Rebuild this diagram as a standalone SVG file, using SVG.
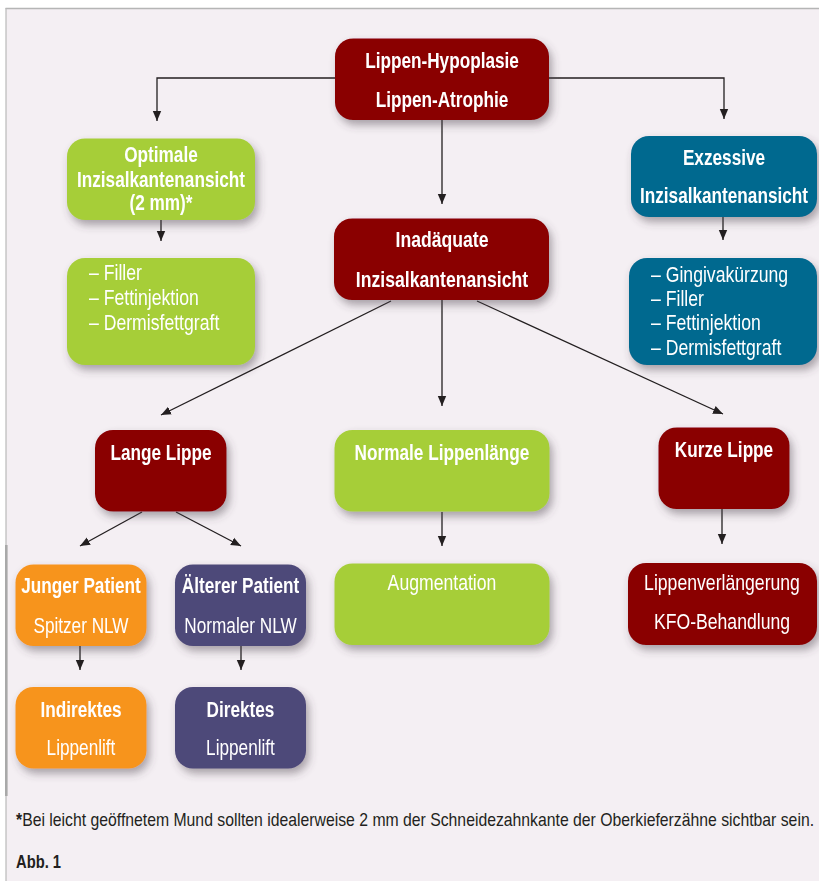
<svg xmlns="http://www.w3.org/2000/svg" width="819" height="881" viewBox="0 0 819 881">
<defs>
<style>
.bg{fill:#f4eff3}
.n{filter:url(#sh)}
.red{fill:#8a0004}
.grn{fill:#a6ce39}
.blu{fill:#00698f}
.org{fill:#f7941e}
.pur{fill:#4e4879}
text{font-family:"Liberation Sans",Arial,sans-serif;fill:#fff}
.b{font-weight:bold;font-size:21.5px;text-anchor:middle}
.r{font-size:21.5px;text-anchor:middle}
.l{font-size:21.5px}
.c line,.c path{stroke:#231f20;stroke-width:1.3;fill:none;marker-end:url(#ah)}
.foot{fill:#231f20;font-size:18px}
</style>
<filter id="sh" x="-20%" y="-20%" width="150%" height="160%">
<feDropShadow dx="3" dy="5" stdDeviation="4" flood-color="#4a4248" flood-opacity="0.45"/>
</filter>
<marker id="ah" markerUnits="userSpaceOnUse" markerWidth="10" markerHeight="10" viewBox="0 0 10 10" refX="10" refY="5" orient="auto">
<path d="M0,0.8 L10,5 L0,9.2 z" fill="#231f20"/>
</marker>
</defs>
<rect x="0" y="0" width="819" height="881" fill="#ffffff"/>
<rect class="bg" x="6" y="8.5" width="813" height="872.5"/>
<line x1="5.5" y1="8.5" x2="819" y2="8.5" stroke="#b5b5b5" stroke-width="1.6"/>
<line x1="6" y1="8" x2="6" y2="881" stroke="#b9b9b9" stroke-width="1.2"/>
<line x1="6.3" y1="545" x2="6.3" y2="796" stroke="#a9a9a9" stroke-width="2.6"/>

<g class="c" id="connectors">
<path d="M335,78 H157 V121"/>
<path d="M549,78 H724 V119"/>
<line x1="442" y1="120" x2="442" y2="204"/>
<line x1="161" y1="220" x2="161" y2="241"/>
<line x1="723" y1="217" x2="723" y2="240"/>
<line x1="391" y1="301" x2="161" y2="415"/>
<line x1="442" y1="300" x2="442" y2="406"/>
<line x1="477" y1="301" x2="723" y2="414"/>
<line x1="142" y1="512" x2="80" y2="546"/>
<line x1="176" y1="512" x2="241" y2="546"/>
<line x1="442" y1="512" x2="442" y2="546"/>
<line x1="722" y1="509" x2="722" y2="544"/>
<line x1="80" y1="646" x2="80" y2="670"/>
<line x1="241" y1="646" x2="241" y2="670"/>
</g>

<g id="n-top" class="n"><rect class="red" x="335" y="38.5" width="214" height="81.5" rx="18"/>
<g transform="translate(442,0) scale(0.8,1)"><text class="b" x="0" y="68">Lippen-Hypoplasie</text><text class="b" x="0" y="107">Lippen-Atrophie</text></g></g>

<g id="n-optimal" class="n"><rect class="grn" x="67" y="138.5" width="188" height="81.5" rx="18"/>
<g transform="translate(161,0) scale(0.8,1)"><text class="b" x="0" y="162">Optimale</text><text class="b" x="0" y="187">Inzisalkantenansicht</text><text class="b" x="0" y="210">(2 mm)*</text></g></g>

<g id="n-optimal-list" class="n"><rect class="grn" x="67" y="258" width="188" height="107" rx="18"/>
<g transform="translate(89,0) scale(0.82,1)"><text class="l" x="0" y="280">– Filler</text><text class="l" x="0" y="305.5">– Fettinjektion</text><text class="l" x="0" y="330">– Dermisfettgraft</text></g></g>

<g id="n-exzessiv" class="n"><rect class="blu" x="631" y="136" width="186" height="81" rx="18"/>
<g transform="translate(724,0) scale(0.8,1)"><text class="b" x="0" y="165">Exzessive</text><text class="b" x="0" y="203.5">Inzisalkantenansicht</text></g></g>

<g id="n-exzessiv-list" class="n"><rect class="blu" x="629" y="258" width="188" height="107" rx="18"/>
<g transform="translate(651,0) scale(0.82,1)"><text class="l" x="0" y="282.5">– Gingivakürzung</text><text class="l" x="0" y="306">– Filler</text><text class="l" x="0" y="330.5">– Fettinjektion</text><text class="l" x="0" y="355">– Dermisfettgraft</text></g></g>

<g id="n-inadaequat" class="n"><rect class="red" x="334" y="218.5" width="215" height="81.5" rx="18"/>
<g transform="translate(442,0) scale(0.82,1)"><text class="b" x="0" y="247.5">Inadäquate</text><text class="b" x="0" y="287">Inzisalkantenansicht</text></g></g>

<g id="n-lange" class="n"><rect class="red" x="95" y="430" width="131.5" height="81.5" rx="18"/>
<g transform="translate(161,0) scale(0.8,1)"><text class="b" x="0" y="460">Lange Lippe</text></g></g>

<g id="n-normal" class="n"><rect class="grn" x="334.5" y="430" width="215" height="81.5" rx="18"/>
<g transform="translate(442,0) scale(0.8,1)"><text class="b" x="0" y="460">Normale Lippenlänge</text></g></g>

<g id="n-kurz" class="n"><rect class="red" x="658.5" y="427.5" width="131" height="81.5" rx="18"/>
<g transform="translate(724,0) scale(0.8,1)"><text class="b" x="0" y="457.5">Kurze Lippe</text></g></g>

<g id="n-junger" class="n"><rect class="org" x="15.5" y="564.5" width="131" height="81.5" rx="18"/>
<g transform="translate(81,0) scale(0.8,1)"><text class="b" x="0" y="593.5">Junger Patient</text><text class="r" x="0" y="633.5">Spitzer NLW</text></g></g>

<g id="n-aelterer" class="n"><rect class="pur" x="175" y="564.5" width="131" height="81.5" rx="18"/>
<g transform="translate(240.5,0) scale(0.8,1)"><text class="b" x="0" y="593.5">Älterer Patient</text><text class="r" x="0" y="633.5">Normaler NLW</text></g></g>

<g id="n-augmentation" class="n"><rect class="grn" x="334.5" y="563.5" width="215" height="81.5" rx="18"/>
<g transform="translate(442,0) scale(0.82,1)"><text class="r" x="0" y="590">Augmentation</text></g></g>

<g id="n-verlaengerung" class="n"><rect class="red" x="628" y="563" width="189" height="82" rx="18"/>
<g transform="translate(722,0) scale(0.82,1)"><text class="r" x="0" y="590">Lippenverlängerung</text><text class="r" x="0" y="629.5">KFO-Behandlung</text></g></g>

<g id="n-indirekt" class="n"><rect class="org" x="15.5" y="687" width="131" height="81.5" rx="18"/>
<g transform="translate(81,0) scale(0.8,1)"><text class="b" x="0" y="717">Indirektes</text><text class="r" x="0" y="755">Lippenlift</text></g></g>

<g id="n-direkt" class="n"><rect class="pur" x="175" y="687" width="131" height="81.5" rx="18"/>
<g transform="translate(240.5,0) scale(0.8,1)"><text class="b" x="0" y="717">Direktes</text><text class="r" x="0" y="755">Lippenlift</text></g></g>

<g transform="translate(16,0) scale(0.877,1)"><text class="foot" x="0" y="826"><tspan font-weight="bold">*</tspan>Bei leicht geöffnetem Mund sollten idealerweise 2 mm der Schneidezahnkante der Oberkieferzähne sichtbar sein.</text></g>
<g transform="translate(16,0) scale(0.82,1)"><text class="foot" x="0" y="868" font-weight="bold" font-size="19.5">Abb. 1</text></g>
</svg>
